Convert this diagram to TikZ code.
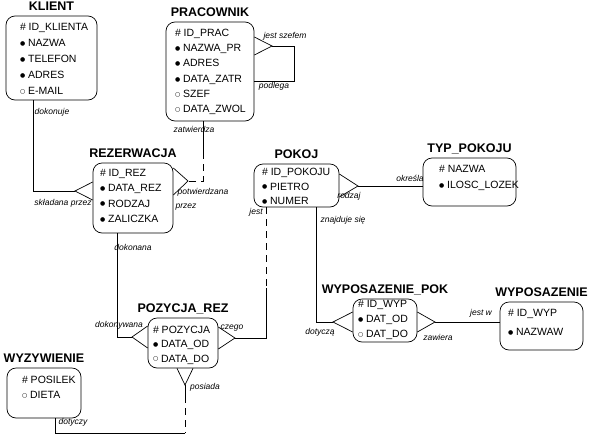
\documentclass[tikz,border=0pt]{standalone}
\usepackage{fontspec}
\setmainfont{Liberation Sans}
\newfontfamily\symfont{DejaVu Sans}
\usetikzlibrary{positioning}

\newcommand{\pk}{\#\ }
\newcommand{\mn}{\raisebox{1.2pt}{\symfont\fontsize{6}{6}\selectfont ●}\ }
\newcommand{\op}{\raisebox{1.2pt}{\symfont\fontsize{6}{6}\selectfont ○}\ }

\begin{document}
\begin{tikzpicture}
        [x=1pt, y=-1pt, every path/.style={line width=0.7pt},
         ent/.style={draw, rounded corners=9pt, inner sep=0},
         ttl/.style={font=\fontsize{12.5}{12.5}\bfseries, inner sep=0, text height=9pt, text depth=0pt, label distance=5pt},
         attr/.style={anchor=north west, inner sep=0, align=left, font=\fontsize{10.5}{15.3}\selectfont},
         rel/.style={inner sep=0, font=\fontsize{8.5}{8.5}\itshape},
         opt/.style={dash pattern=on 7pt off 5pt}]

        \useasboundingbox (0,0) rectangle (589,437);

        % entities
        \node[ent, minimum width=91pt, minimum height=84pt, label={[ttl]above:KLIENT}] (klient) at (51.5,58) {};
        \node[ent, minimum width=88pt, minimum height=99pt, label={[ttl]above:PRACOWNIK}] (prac) at (210,71.5) {};
        \node[ent, minimum width=80pt, minimum height=70pt, label={[ttl]above:REZERWACJA}] (rez) at (133,198) {};
        \node[ent, minimum width=85pt, minimum height=43pt, label={[ttl]above:POKOJ}] (pokoj) at (296.5,185.5) {};
        \node[ent, minimum width=93pt, minimum height=48pt, label={[ttl]above:TYP\_POKOJU}] (typ) at (469.5,182) {};
        \node[ent, minimum width=70pt, minimum height=50pt, label={[ttl]above:POZYCJA\_REZ}] (poz) at (183,343) {};
        \node[ent, minimum width=64pt, minimum height=43pt, label={[ttl]above:WYPOSAZENIE\_POK}] (wpok) at (385,320.5) {};
        \node[ent, minimum width=83pt, minimum height=48pt, label={[ttl]above:WYPOSAZENIE}] (wyp) at (541.5,326) {};
        \node[ent, minimum width=74pt, minimum height=50pt, label={[ttl]above:WYZYWIENIE}] (wyz) at (44,393) {};

        % attributes
        \node[attr, font=\fontsize{10.5}{16}\selectfont] (klientA) at ([shift={(14,7.5)}]klient.north west) {\pk ID\_KLIENTA\\ \mn NAZWA\\ \mn TELEFON\\ \mn ADRES\\ \op E-MAIL};
        \node[attr] (pracA) at ([shift={(9,7)}]prac.north west) {\pk ID\_PRAC\\ \mn NAZWA\_PR\\ \mn ADRES\\ \mn DATA\_ZATR\\ \op SZEF\\ \op DATA\_ZWOL};
        \node[attr] (rezA) at ([shift={(7,6.2)}]rez.north west) {\pk ID\_REZ\\ \mn DATA\_REZ\\ \mn RODZAJ\\ \mn ZALICZKA};
        \node[attr, font=\fontsize{10.5}{14.5}\selectfont] (pokojA) at ([shift={(8,4.2)}]pokoj.north west) {\pk ID\_POKOJU\\ \mn PIETRO\\ \mn NUMER};
        \node[attr, font=\fontsize{10.5}{16}\selectfont] (typA) at ([shift={(16,7.2)}]typ.north west) {\pk NAZWA\\ \mn ILOSC\_LOZEK};
        \node[attr, font=\fontsize{10.5}{14.3}\selectfont] (pozA) at ([shift={(5,8.2)}]poz.north west) {\pk POZYCJA\\ \mn DATA\_OD\\ \op DATA\_DO};
        \node[attr, font=\fontsize{10.5}{15}\selectfont] (wpokA) at ([shift={(5,1.2)}]wpok.north west) {\pk ID\_WYP\\ \mn DAT\_OD\\ \op DAT\_DO};
        \node[attr, font=\fontsize{10.5}{19}\selectfont] (wypA) at ([shift={(8,7.2)}]wyp.north west) {\pk ID\_WYP\\ \mn NAZWAW};
        \node[attr, font=\fontsize{10.5}{15}\selectfont] (wyzA) at ([shift={(15,8.2)}]wyz.north west) {\pk POSILEK\\ \op DIETA};

        % crow's feet tips and bends
        \coordinate (c1) at (75,191);
        \coordinate (m2) at (203,152);
        \coordinate (c2) at (188,181);
        \coordinate (c3) at (272,46);
        \coordinate (r3) at (294,81);
        \coordinate (c4) at (132,337);
        \coordinate (m5) at (266,288);
        \coordinate (c5) at (235,338);
        \coordinate (c6) at (358,186);
        \coordinate (c7) at (333,322);
        \coordinate (c8) at (435,322);
        \coordinate (c9) at (185,385);
        \coordinate (m9) at (185,396);
        \coordinate (k9) at (185,433);

        % relationships
        \draw ([xshift=-18.5pt]klient.south) |- (c1);
        \draw ([yshift=16pt]rez.west) -- (c1) -- ([yshift=-2pt]rez.west);

        \draw ([xshift=-7pt]prac.south) -- (m2);
        \draw[opt] (m2) |- (c2);
        \draw ([yshift=30pt]rez.east) -- (c2) -- ([yshift=3pt]rez.east);

        \draw ([yshift=34.5pt]prac.east) -- (c3) -- ([yshift=16.5pt]prac.east);
        \draw (c3) -| (r3) -- (r3 -| prac.east);

        \draw ([xshift=-16pt]rez.south) |- (c4);
        \draw ([yshift=17pt]poz.west) -- (c4) -- ([yshift=-5pt]poz.west);

        \draw[opt] ([xshift=-30.5pt]pokoj.south) -- (m5);
        \draw (m5) |- (c5);
        \draw ([yshift=16pt]poz.east) -- (c5) -- ([yshift=-6pt]poz.east);

        \draw ([yshift=11.5pt]pokoj.east) -- (c6) -- ([yshift=-11.5pt]pokoj.east);
        \draw (c6) -- (c6 -| typ.west);

        \draw ([xshift=19.5pt]pokoj.south) |- (c7);
        \draw ([yshift=8.5pt]wpok.west) -- (c7) -- ([yshift=-11.5pt]wpok.west);

        \draw ([yshift=8.5pt]wpok.east) -- (c8) -- ([yshift=-11.5pt]wpok.east);
        \draw (c8) -- (c8 -| wyp.west);

        \draw ([xshift=-6pt]poz.south) -- (c9) -- ([xshift=10pt]poz.south);
        \draw (c9) -- (m9);
        \draw[opt] (m9) -- (k9);
        \draw (k9) -| ([xshift=11pt]wyz.south);

        % relationship names
        \node[rel] (l1a) at (52,112) {dokonuje};
        \node[rel] (l1b) at (63,203) {składana przez};
        \node[rel] (l2a) at (194,129) {zatwierdza};
        \node[rel] (l2b) at (203,192) {potwierdzana};
        \node[rel] (l2c) at (186,207) {przez};
        \node[rel] (l3a) at (285,36) {jest szefem};
        \node[rel] (l3b) at (274,86) {podlega};
        \node[rel] (l4a) at (133,247) {dokonana};
        \node[rel] (l4b) at (119,325) {dokonywana};
        \node[rel] (l5a) at (256,212) {jest};
        \node[rel] (l5b) at (232,328) {czego};
        \node[rel] (l6a) at (349,196) {rodzaj};
        \node[rel] (l6b) at (410,178) {określa};
        \node[rel] (l7a) at (343,220) {znajduje się};
        \node[rel] (l7b) at (320,332) {dotyczą};
        \node[rel] (l8a) at (438,337) {zawiera};
        \node[rel] (l8b) at (481,313) {jest w};
        \node[rel] (l9a) at (205,387) {posiada};
        \node[rel] (l9b) at (73,422) {dotyczy};

      \end{tikzpicture}
\end{document}
